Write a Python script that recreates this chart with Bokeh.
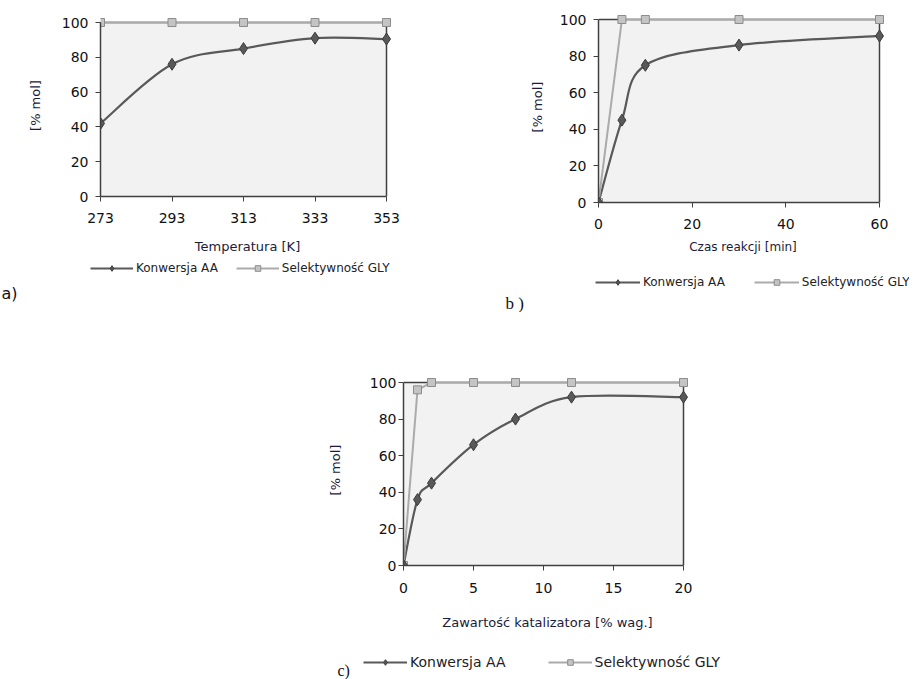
from bokeh.plotting import figure
from bokeh.models import (Legend, LegendItem, Label, Range1d, FixedTicker, ColumnDataSource,
                          LinearAxis, BoxAnnotation)
from bokeh.layouts import column, row
from bokeh.embed import file_html
from bokeh.resources import INLINE

# ---- data ----
temp_x = [273, 293, 313, 333, 353]
temp_conv = [42, 76, 85, 91, 90.5]
temp_sel = [100, 100, 100, 100, 100]

time_x = [0, 5, 10, 30, 60]
time_conv = [0, 45, 75, 86, 91]
time_sel = [0, 100, 100, 100, 100]

cat_x = [0, 1, 2, 5, 8, 12, 20]
cat_conv = [0, 36, 45, 66, 80, 92, 92]
cat_sel = [0, 96, 100, 100, 100, 100, 100]

y_ticks = [0, 20, 40, 60, 80, 100]
temp_ticks = [273, 293, 313, 333, 353]
time_ticks = [0, 20, 40, 60]
cat_ticks = [0, 5, 10, 15, 20]

lab_conv = "Konwersja AA"
lab_sel = "Selektywność GLY"

FONT = "DejaVu Sans"
CONV_C = "#595959"
SEL_C = "#ababab"
EDGE = "#404040"
PAD = 8  # px of white space above / right of the data box so edge markers are not clipped


def smooth(xs, ys):
    n = len(xs)
    d = dict(x0=[], y0=[], x1=[], y1=[], cx0=[], cy0=[], cx1=[], cy1=[])
    for i in range(n - 1):
        pm = i - 1 if i > 0 else i
        pp = i + 2 if i + 2 < n else i + 1
        d["x0"].append(xs[i]); d["y0"].append(ys[i])
        d["x1"].append(xs[i + 1]); d["y1"].append(ys[i + 1])
        d["cx0"].append(xs[i] + (xs[i + 1] - xs[pm]) / 6)
        d["cy0"].append(ys[i] + (ys[i + 1] - ys[pm]) / 6)
        d["cx1"].append(xs[i + 1] - (xs[pp] - xs[i]) / 6)
        d["cy1"].append(ys[i + 1] - (ys[pp] - ys[i]) / 6)
    return ColumnDataSource(d)


def style_axis(ax, tick_fs, lab_fs):
    ax.axis_line_color = EDGE
    ax.axis_line_width = 1.5
    ax.major_tick_line_color = EDGE
    ax.major_tick_out = 5
    ax.major_tick_in = 0
    ax.minor_tick_line_color = None
    ax.major_label_text_font = FONT
    ax.major_label_text_font_size = tick_fs
    ax.major_label_text_color = "#111111"
    ax.axis_label_text_font = FONT
    ax.axis_label_text_font_size = lab_fs
    ax.axis_label_text_font_style = "normal"
    ax.axis_label_text_color = "#1b1b3a"


def chart(w, h, box, xticks, xlabel, xs, conv, sel, tick_fs, xlab_fs,
          xstand, ystand, lab_xstand, lab_ystand):
    # box = (left, right, top, bottom) pixel position of the data box inside the figure
    L, R, T, B = box
    x0, x1 = xticks[0], xticks[-1]
    y0, y1 = y_ticks[0], y_ticks[-1]
    dxp = (x1 - x0) / (R - L)
    dyp = (y1 - y0) / (B - T)
    p = figure(width=w, height=h, output_backend="svg", toolbar_location=None,
               x_range=Range1d(x0, x1 + PAD * dxp),
               y_range=Range1d(y0, y1 + PAD * dyp),
               min_border_left=L, min_border_right=w - R - PAD,
               min_border_top=T - PAD, min_border_bottom=h - B)
    p.background_fill_color = "white"
    p.border_fill_color = "white"
    p.outline_line_color = None
    p.grid.visible = False

    p.add_layout(BoxAnnotation(left=x0, right=x1, bottom=y0, top=y1, fill_color="#f2f2f2",
                               fill_alpha=1, line_color=None, level="image"))

    xa, ya = p.xaxis[0], p.yaxis[0]
    style_axis(xa, tick_fs, xlab_fs)
    style_axis(ya, tick_fs, "13px")
    xa.ticker = FixedTicker(ticks=xticks)
    ya.ticker = FixedTicker(ticks=y_ticks)
    xa.axis_label = xlabel
    ya.axis_label = "[% mol]"
    xa.bounds = (x0, x1)
    ya.bounds = (y0, y1)
    xa.major_label_standoff = xstand
    ya.major_label_standoff = ystand
    xa.axis_label_standoff = lab_xstand
    ya.axis_label_standoff = lab_ystand

    top = LinearAxis(fixed_location=y1, bounds=(x0, x1), ticker=FixedTicker(ticks=[]))
    right = LinearAxis(fixed_location=x1, bounds=(y0, y1), ticker=FixedTicker(ticks=[]))
    for ax in (top, right):
        style_axis(ax, "1px", "1px")
        ax.major_tick_line_color = None
        ax.major_label_text_color = None
        ax.level = "underlay"
    p.add_layout(top, "above")
    p.add_layout(right, "right")

    src = smooth(xs, conv)
    p.bezier(x0="x0", y0="y0", x1="x1", y1="y1", cx0="cx0", cy0="cy0", cx1="cx1", cy1="cy1",
             source=src, line_color=CONV_C, line_width=2.2)
    p.line(xs, sel, line_color=SEL_C, line_width=2)
    p.scatter(xs, sel, marker="square", size=8, fill_color="#c4c4c4", line_color="#8c8c8c")
    p.scatter(xs, conv, marker="diamond", size=12, fill_color=CONV_C, line_color="#3a3a3a")
    return p


def legend_fig(w, h, xs, conv, sel, leg_loc, leg_fs, glyph_w, spacing,
               tag, tag_xy, tag_font, tag_fs):
    # a strip below each chart holding its legend; the series renderers only feed the
    # legend samples (the strip's ranges lie outside the data, so nothing else is drawn)
    q = figure(width=w, height=h, output_backend="svg", toolbar_location=None,
               x_axis_type=None, y_axis_type=None,
               x_range=Range1d(-3e6, -2e6), y_range=Range1d(-3e6, -2e6),
               min_border=0, min_border_left=0, min_border_right=0,
               min_border_top=0, min_border_bottom=0)
    q.outline_line_color = None
    q.grid.visible = False
    q.background_fill_color = "white"
    q.border_fill_color = "white"
    cl = q.line(xs, conv, line_color=CONV_C, line_width=2.2)
    cs = q.scatter(xs, conv, marker="diamond", size=10, fill_color=CONV_C, line_color="#3a3a3a")
    sl = q.line(xs, sel, line_color=SEL_C, line_width=2)
    ss = q.scatter(xs, sel, marker="square", size=7, fill_color="#c4c4c4", line_color="#8c8c8c")
    leg = Legend(items=[LegendItem(label=lab_conv, renderers=[cl, cs], index=0),
                        LegendItem(label=lab_sel, renderers=[sl, ss], index=0)],
                 location=leg_loc, orientation="horizontal")
    leg.padding = 0
    leg.margin = 0
    leg.spacing = spacing
    leg.border_line_color = None
    leg.background_fill_alpha = 0
    leg.glyph_width = glyph_w
    leg.glyph_height = 14
    leg.label_height = 14
    leg.label_standoff = 3
    leg.label_text_font = FONT
    leg.label_text_font_size = leg_fs
    leg.label_text_color = "#222222"
    q.add_layout(leg, "center")
    q.add_layout(Label(x=tag_xy[0], y=tag_xy[1], x_units="screen", y_units="screen", text=tag,
                       text_font=tag_font, text_font_size=tag_fs, text_baseline="middle",
                       text_color="#111111"))
    return q


pa = chart(478, 258, (100, 386, 22, 196), temp_ticks, "Temperatura [K]",
           temp_x, temp_conv, temp_sel, "14px", "13px", 11, 7, 13, 16)
la = legend_fig(478, 54, temp_x, temp_conv, temp_sel, (90, 37), "12px", 43, 18,
                "a)", (1, 19), FONT, "16px")
pb = chart(431, 262, (120, 401, 19, 202), time_ticks, "Czas reakcji [min]",
           time_x, time_conv, time_sel, "14px", "12px", 11, 7, 8, 12)
lb = legend_fig(431, 50, time_x, time_conv, time_sel, (117, 23), "12px", 45, 29,
                "b )", (27, 9), "Liberation Serif", "17px")
pc = chart(909, 332, (403, 683, 70, 253), cat_ticks, "Zawartość katalizatora [% wag.]",
           cat_x, cat_conv, cat_sel, "14px", "13px", 12, 2, 19, 24)
lc = legend_fig(909, 35, cat_x, cat_conv, cat_sel, (363, 9), "14px", 44, 42,
                "c)", (337, 9), "Liberation Serif", "16px")

# each figure sits in its own one-item row so that frames are not aligned across figures
col_a = column(row(pa), row(la), spacing=0)
col_b = column(row(pb), row(lb), spacing=0)
layout = column(row(col_a, col_b, spacing=0), row(pc), row(lc), spacing=0)
open("out.html", "w").write(file_html(layout, INLINE))
